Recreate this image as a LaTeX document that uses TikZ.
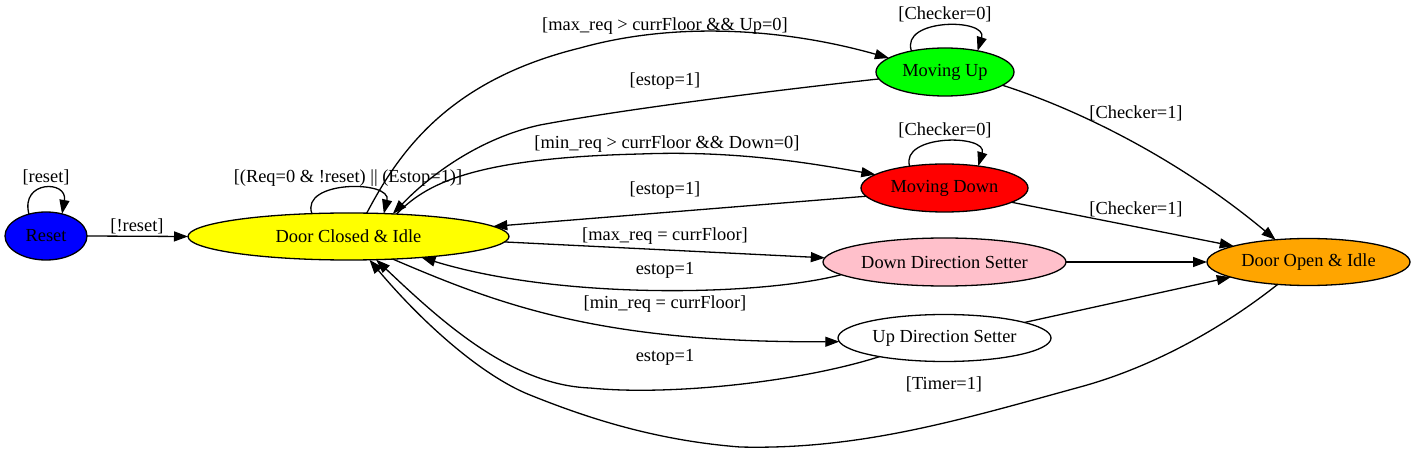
\documentclass[tikz,border=0pt]{standalone}
\usepackage{fontspec}
\setmainfont{Liberation Serif}
\usetikzlibrary{shapes.geometric,arrows.meta}
\definecolor{gvblue}{RGB}{0,0,255}
\definecolor{gvyellow}{RGB}{255,255,0}
\definecolor{gvgreen}{RGB}{0,255,0}
\definecolor{gvred}{RGB}{255,0,0}
\definecolor{gvpink}{RGB}{255,192,203}
\definecolor{gvorange}{RGB}{255,165,0}
\begin{document}
\begin{tikzpicture}[x=1pt,y=-1pt,
  font=\fontsize{18.4}{22}\selectfont,
  state/.style={ellipse,draw=black,line width=1.3pt,inner sep=0pt,outer sep=0pt},
  edge/.style={draw=black,line width=1.3pt,-{Triangle[length=14pt,width=10pt]}},
  lbl/.style={inner sep=0pt}]
\useasboundingbox[fill=white] (0,0) rectangle (1416,454);
% states
\node[state,fill=gvblue,minimum width=82pt,minimum height=48pt] (reset) at (46,236) {Reset};
\node[state,fill=gvyellow,minimum width=321pt,minimum height=47pt] (dc) at (348.5,236.5) {Door Closed \& Idle};
\node[state,fill=gvgreen,minimum width=138pt,minimum height=48pt] (mu) at (945,72) {Moving Up};
\node[state,fill=gvred,minimum width=167pt,minimum height=48pt] (md) at (944.5,188) {Moving Down};
\node[state,fill=gvpink,minimum width=243pt,minimum height=48pt] (dds) at (944.5,262) {Down Direction Setter};
\node[state,fill=white,minimum width=213pt,minimum height=47pt] (uds) at (944.5,338) {Up Direction Setter};
\node[state,fill=gvorange,minimum width=203pt,minimum height=47pt] (dopen) at (1308.5,262) {Door Open \& Idle};
% edges
\draw[edge] (reset.128) .. controls (20,180) and (68,180) .. (reset.54);
\draw[edge] (reset.east) -- (dc.west);
\draw[edge] (dc.148) .. controls (300,180) and (392,180) .. (dc.33);
\draw[edge] (dc.52) .. controls (400,150) and (450,80) .. (580,48) .. controls (680,20) and (790,30) .. (mu.166);
\draw[edge] (mu.186) .. controls (760,92) and (620,110) .. (540,125) .. controls (480,138) and (430,175) .. (dc.27);
\draw[edge] (dc.25) .. controls (425,185) and (470,158) .. (640,154) .. controls (740,150) and (820,165) .. (md.169);
\draw[edge] (md.186) -- (dc.4);
\draw[edge] (dc.-2) -- (dds.178);
\draw[edge] (dds.187) .. controls (760,296) and (560,300) .. (dc.-16);
\draw[edge] (dc.-27) .. controls (500,305) and (600,343) .. (uds.182);
\draw[edge] (uds.196) .. controls (800,382) and (670,396) .. (590,388) .. controls (510,385) and (440,320) .. (dc.-40);
\draw[edge] (dopen.216) .. controls (1220,330) and (1150,368) .. (1080,387) .. controls (960,420) and (860,450) .. (740,447) .. controls (650,440) and (580,415) .. (530,395) .. controls (480,375) and (420,320) .. (dc.-48);
\draw[edge] (mu.148) .. controls (900,18) and (988,18) .. (mu.33);
\draw[edge] (md.148) .. controls (900,134) and (988,134) .. (md.33);
\draw[edge] (mu.-13) .. controls (1080,110) and (1180,160) .. (dopen.146);
\draw[edge] (md.-12) -- (dopen.168.6);
\draw[edge] (dds.east) -- (dopen.west);
\draw[edge] (uds.11.7) -- (dopen.191.4);
% labels
\node[lbl] (l1) at (46,177) {[reset]};
\node[lbl] (l2) at (137,226) {[!reset]};
\node[lbl] (l3) at (348,178) {[(Req=0 \& !reset) || (Estop=1)]};
\node[lbl] (l4) at (665,26) {[max\_req > currFloor \&\& Up=0]};
\node[lbl] (l5) at (665,81) {[estop=1]};
\node[lbl] (l6) at (667,144) {[min\_req > currFloor \&\& Down=0]};
\node[lbl] (l7) at (665,190) {[estop=1]};
\node[lbl] (l8) at (665,236) {[max\_req = currFloor]};
\node[lbl] (l9) at (665,270) {estop=1};
\node[lbl] (l10) at (665,304) {[min\_req = currFloor]};
\node[lbl] (l11) at (665,357) {estop=1};
\node[lbl] (l12) at (944,384) {[Timer=1]};
\node[lbl] (l13) at (945,14) {[Checker=0]};
\node[lbl] (l14) at (945,130) {[Checker=0]};
\node[lbl] (l15) at (1136,113) {[Checker=1]};
\node[lbl] (l16) at (1136,209) {[Checker=1]};
\end{tikzpicture}
\end{document}
